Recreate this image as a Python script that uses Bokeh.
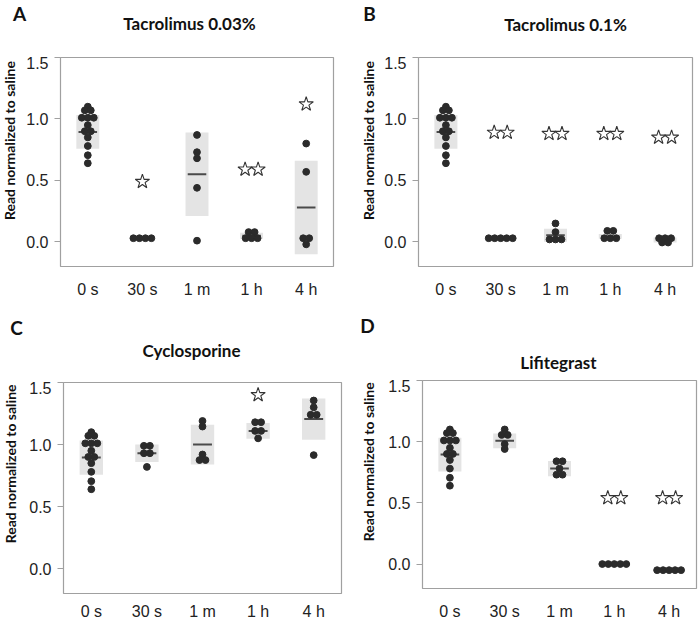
import math
from bokeh.plotting import figure
from bokeh.models import Label, FixedTicker, Range1d, NumeralTickFormatter
from bokeh.layouts import row, column
from bokeh.embed import file_html
from bokeh.resources import INLINE

# ---------------- data ----------------
categories = ["0 s", "30 s", "1 m", "1 h", "4 h"]
y_ticks = [0.0, 0.5, 1.0, 1.5]
y_label = "Read normalized to saline"

ctrl_0s = [1.10, 1.07, 1.07, 1.01, 1.01, 1.01, 0.95, 0.90, 0.90, 0.85, 0.78, 0.705, 0.64]
ctrl_mean = 0.895
ctrl_sd = 0.138

# Panel A - Tacrolimus 0.03%
a_30s = [0.03, 0.03, 0.03, 0.03]
a_1m = [0.87, 0.73, 0.68, 0.44, 0.01]
a_1h = [0.08, 0.08, 0.03, 0.03, 0.03]
a_4h = [0.80, 0.57, 0.03, 0.03, -0.02]
a_mean = [ctrl_mean, 0.03, 0.55, 0.05, 0.28]
a_sd = [ctrl_sd, 0.0, 0.34, 0.025, 0.38]
a_star_y = [None, 0.49, None, 0.59, 1.12]
a_star_n = [0, 1, 0, 2, 1]

# Panel B - Tacrolimus 0.1%
b_30s = [0.03, 0.03, 0.03, 0.03, 0.03]
b_1m = [0.15, 0.08, 0.02, 0.02, 0.02]
b_1h = [0.09, 0.09, 0.03, 0.03, 0.03]
b_4h = [0.03, 0.03, 0.03, -0.005, -0.005]
b_mean = [ctrl_mean, 0.03, 0.055, 0.045, 0.016]
b_sd = [ctrl_sd, 0.0, 0.053, 0.02, 0.02]
b_star_y = [None, 0.89, 0.88, 0.88, 0.85]
b_star_n = [0, 2, 2, 2, 2]

# Panel C - Cyclosporine
c_30s = [0.99, 0.99, 0.93, 0.93, 0.82]
c_1m = [1.19, 1.145, 0.92, 0.875, 0.875]
c_1h = [1.18, 1.18, 1.11, 1.11, 1.05]
c_4h = [1.355, 1.30, 1.24, 1.24, 0.915]
c_mean = [ctrl_mean, 0.93, 1.0, 1.11, 1.205]
c_sd = [ctrl_sd, 0.07, 0.16, 0.063, 0.166]
c_star_y = [None, None, None, 1.40, None]
c_star_n = [0, 0, 0, 1, 0]

# Panel D - Lifitegrast
d_30s = [1.10, 1.055, 1.055, 0.98, 0.94]
d_1m = [0.84, 0.84, 0.78, 0.73, 0.73]
d_1h = [0.0, 0.0, 0.0, 0.0, 0.0]
d_4h = [-0.05, -0.05, -0.05, -0.05, -0.05]
d_mean = [ctrl_mean, 1.007, 0.78, 0.0, -0.05]
d_sd = [ctrl_sd, 0.06, 0.063, 0.0, 0.0]
d_star_y = [None, None, None, 0.54, 0.54]
d_star_n = [0, 0, 0, 2, 2]

# ---------------- styling ----------------
Y_MIN, Y_MAX = -0.2, 1.5
X_MIN, X_MAX = -0.5, 4.5
DOT = "#2b2b2b"
BOX = "#e4e4e4"
FRAME = "#a0a0a0"
TXT = "#111111"


def swarm_offsets(vals, px_per_x, dot_px=6.0, tol=0.02):
    order = sorted(range(len(vals)), key=lambda k: -vals[k])
    rows = []
    for k in order:
        if rows and abs(vals[rows[-1][0]] - vals[k]) <= tol:
            rows[-1].append(k)
        else:
            rows.append([k])
    offs = [0.0] * len(vals)
    for r in rows:
        n = len(r)
        for j, k in enumerate(r):
            offs[k] = (j - (n - 1) / 2) * dot_px / px_per_x
    return offs


def blank(width, height):
    f = figure(width=width, height=height, output_backend="svg",
               toolbar_location=None, x_range=Range1d(0, width),
               y_range=Range1d(0, height), x_axis_type=None, y_axis_type=None,
               min_border=0)
    f.outline_line_color = None
    f.grid.visible = False
    f.background_fill_color = "white"
    f.border_fill_color = "white"
    return f


def make_header(width, height, letter, letter_x, letter_top, title, title_x, title_top):
    """A strip above each panel carrying the panel letter and the title."""
    h = blank(width, height)
    h.add_layout(Label(x=letter_x, y=height - letter_top, text=letter,
                       text_font="Lato", text_font_style="bold",
                       text_font_size="19px", text_color=TXT,
                       text_align="center", text_baseline="middle"))
    h.add_layout(Label(x=title_x, y=height - title_top, text=title,
                       text_font="Lato", text_font_style="bold",
                       text_font_size="17px", text_color=TXT,
                       text_align="center", text_baseline="middle"))
    return h


def make_ylabel(width, height, cx, cy_top):
    """Vertical strip left of each panel with the rotated y-axis title."""
    s = blank(width, height)
    s.add_layout(Label(x=cx, y=height - cy_top, text=y_label, angle=math.pi / 2,
                       text_font="Lato", text_font_style="bold",
                       text_font_size="14px", text_color=TXT,
                       text_align="center", text_baseline="middle"))
    return s


def make_panel(groups, means, sds, star_y, star_n,
               width, height, bl, br, bt, bb, xstand):
    fw = width - bl - br
    px_per_x = fw / (X_MAX - X_MIN)
    p = figure(width=width, height=height, output_backend="svg",
               toolbar_location=None, x_range=Range1d(X_MIN, X_MAX),
               y_range=Range1d(Y_MIN, Y_MAX),
               min_border_left=bl, min_border_right=br,
               min_border_top=bt, min_border_bottom=bb)
    p.background_fill_color = "white"
    p.border_fill_color = "white"
    p.outline_line_color = FRAME
    p.outline_line_width = 1.2
    p.grid.visible = False

    xs = list(range(len(categories)))
    p.vbar(x=xs, width=0.42, bottom=[m - s for m, s in zip(means, sds)],
           top=[m + s for m, s in zip(means, sds)], fill_color=BOX,
           line_color=None)
    p.segment(x0=[x - 0.17 for x in xs], x1=[x + 0.17 for x in xs],
              y0=means, y1=means, line_color="#4a4a4a", line_width=2)

    px, py = [], []
    for i, vals in enumerate(groups):
        offs = swarm_offsets(vals, px_per_x)
        px += [i + o for o in offs]
        py += list(vals)
    p.scatter(px, py, size=6.8, fill_color=DOT, line_color=DOT)

    sx, sy = [], []
    for i, (yv, n) in enumerate(zip(star_y, star_n)):
        for j in range(n):
            sx.append(i + (j - (n - 1) / 2) * 13.0 / px_per_x)
            sy.append(yv)
    p.scatter(sx, sy, marker="star", size=15, fill_color="white",
              line_color="#333333", line_width=1.1)

    p.xaxis.ticker = FixedTicker(ticks=xs)
    p.xaxis.major_label_overrides = {i: c for i, c in enumerate(categories)}
    p.xaxis.major_tick_line_color = None
    p.xaxis.minor_tick_line_color = None
    p.xaxis.axis_line_color = None
    p.xaxis.major_label_standoff = xstand
    p.yaxis.ticker = FixedTicker(ticks=y_ticks)
    p.yaxis.formatter = NumeralTickFormatter(format="0.0")
    p.yaxis.axis_line_color = None
    p.yaxis.major_tick_line_color = FRAME
    p.yaxis.major_tick_out = 6
    p.yaxis.major_tick_in = 0
    p.yaxis.minor_tick_line_color = None
    p.yaxis.major_label_standoff = 6
    for ax in (p.xaxis, p.yaxis):
        ax.major_label_text_font = "Liberation Sans"
        ax.major_label_text_font_size = "16px"
        ax.major_label_text_color = "#222222"
    return p


def panel(header, ylab, plot):
    return column(header, row(ylab, plot))


hA = make_header(350, 56, "A", 19, 12.5, "Tacrolimus 0.03%", 189, 23)
sA = make_ylabel(20, 244, 9, 97)
pA = make_panel([ctrl_0s, a_30s, a_1m, a_1h, a_4h], a_mean, a_sd, a_star_y,
                a_star_n, 330, 244, 40, 17, 1, 28, 8)

hB = make_header(349, 56, "B", 19, 12.5, "Tacrolimus 0.1%", 215, 24)
sB = make_ylabel(30, 244, 18, 97)
pB = make_panel([ctrl_0s, b_30s, b_1m, b_1h, b_4h], b_mean, b_sd, b_star_y,
                b_star_n, 319, 244, 38, 7, 1, 28, 8)

hC = make_header(350, 81, "C", 16, 27, "Cyclosporine", 191, 50)
sC = make_ylabel(20, 241, 10, 93)
pC = make_panel([ctrl_0s, c_30s, c_1m, c_1h, c_4h], c_mean, c_sd, c_star_y,
                c_star_n, 330, 241, 43, 9, 1, 25, 3)

hD = make_header(349, 79, "D", 17, 25, "Lifitegrast", 208, 62)
sD = make_ylabel(30, 243, 18, 95)
pD = make_panel([ctrl_0s, d_30s, d_1m, d_1h, d_4h], d_mean, d_sd, d_star_y,
                d_star_n, 319, 243, 42, 3, 1, 27, 8)

layout = column(row(panel(hA, sA, pA), panel(hB, sB, pB)),
                row(panel(hC, sC, pC), panel(hD, sD, pD)))
open("out.html", "w").write(file_html(layout, INLINE))
